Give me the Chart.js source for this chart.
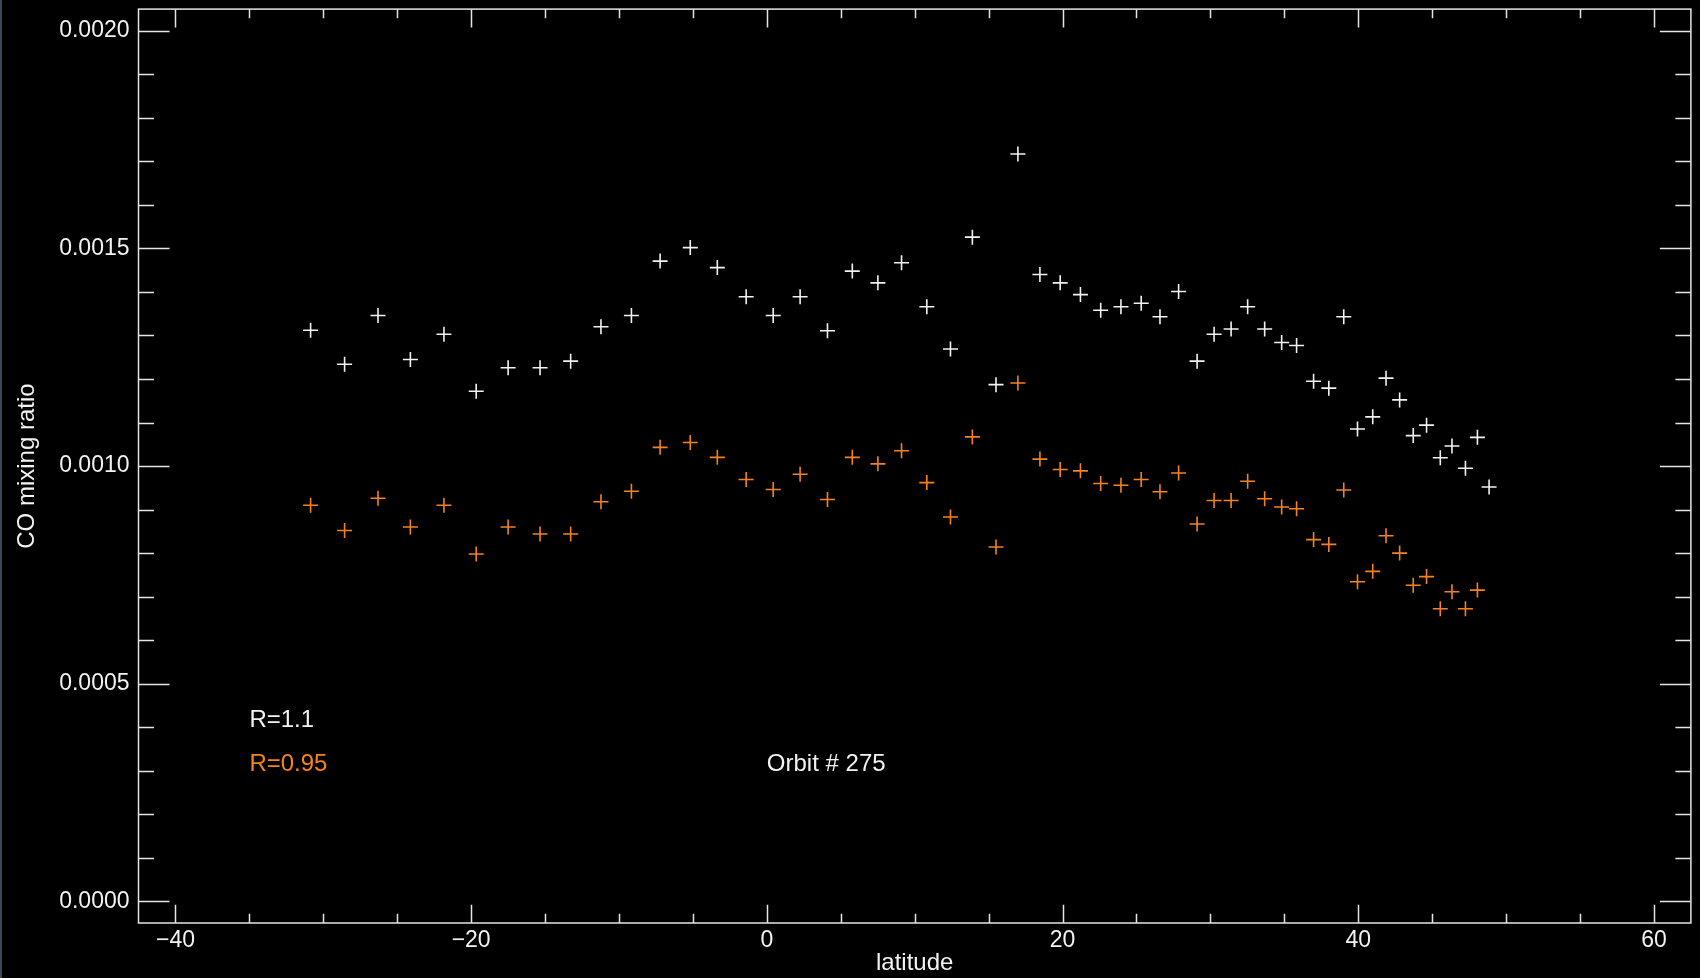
<!DOCTYPE html>
<html>
<head>
<meta charset="utf-8">
<title>CO mixing ratio vs latitude</title>
<script src="https://cdn.jsdelivr.net/npm/chart.js@4.4.0/dist/chart.umd.min.js"></script>
<style>
  html, body { margin: 0; padding: 0; background: #000; overflow: hidden; }
  #wrap { position: relative; width: 1700px; height: 978px; }
  #edge { position: absolute; left: 0; top: 0; width: 2px; height: 978px; background: #3e4a57; }
</style>
</head>
<body>
<div id="wrap">
  <canvas id="coChart" width="1700" height="978"></canvas>
  <div id="edge"></div>
</div>
<script>
// latitude of each retrieval along the orbit
const latitude = [
  -30.86, -28.56, -26.30, -24.11, -21.84, -19.66, -17.50, -15.34, -13.27, -11.22,
  -9.16, -7.22, -5.18, -3.35, -1.40, 0.43, 2.25, 4.10, 5.78, 7.51,
  9.11, 10.82, 12.42, 13.90, 15.50, 16.98, 18.47, 19.84, 21.21, 22.58,
  23.95, 25.32, 26.59, 27.85, 29.10, 30.25, 31.40, 32.52, 33.67, 34.82,
  35.83, 36.98, 38.01, 39.02, 39.95, 40.98, 41.88, 42.80, 43.72, 44.62,
  45.55, 46.34, 47.25, 48.06, 48.85
];

// CO mixing ratio, R=1.1
const ratioR11 = [
  0.001312, 0.001234, 0.001346, 0.001245, 0.001303, 0.001172, 0.001226, 0.001226, 0.001241, 0.001320,
  0.001346, 0.001471, 0.001502, 0.001456, 0.001389, 0.001346, 0.001389, 0.001311, 0.001448, 0.001421,
  0.001467, 0.001366, 0.001269, 0.001526, 0.001187, 0.001717, 0.001440, 0.001421, 0.001394, 0.001358,
  0.001366, 0.001374, 0.001343, 0.001401, 0.001241, 0.001303, 0.001315, 0.001366, 0.001315, 0.001284,
  0.001277, 0.001195, 0.001179, 0.001343, 0.001085, 0.001113, 0.001202, 0.001152, 0.001070, 0.001094,
  0.001019, 0.001046, 0.000995, 0.001066, 0.000952
];

// CO mixing ratio, R=0.95 (no value at the last latitude)
const ratioR095 = [
  0.000910, 0.000852, 0.000926, 0.000860, 0.000910, 0.000798, 0.000860, 0.000844, 0.000844, 0.000918,
  0.000942, 0.001043, 0.001054, 0.001020, 0.000969, 0.000946, 0.000981, 0.000923, 0.001020, 0.001005,
  0.001035, 0.000962, 0.000883, 0.001067, 0.000814, 0.001191, 0.001016, 0.000992, 0.000989, 0.000960,
  0.000956, 0.000969, 0.000941, 0.000984, 0.000867, 0.000921, 0.000921, 0.000965, 0.000925, 0.000906,
  0.000902, 0.000831, 0.000820, 0.000945, 0.000734, 0.000758, 0.000840, 0.000800, 0.000726, 0.000746,
  0.000672, 0.000711, 0.000672, 0.000715
];

const xTickValues = [-40, -20, 0, 20, 40, 60];
const yTickValues = [0, 0.0005, 0.001, 0.0015, 0.002];
const xMinorStep = 5;
const yMinorStep = 0.0001;

// text written into the plot in data coordinates
const noteTexts = ["R=1.1", "R=0.95", "Orbit # 275"];
const noteLat = [-35, -35, 0];
const noteRatio = [0.0004, 0.0003, 0.0003];

const WHITE = "#f2f2f2";
const ORANGE = "#f5821f";
const AXIS_COLOR = "#e4e4e4";
const FONT = "'Liberation Sans', Arial, sans-serif";
const noteColors = [WHITE, ORANGE, WHITE];

function toPoints(xs, ys) {
  return ys.map((v, i) => ({ x: xs[i], y: v }));
}

// closed box with inward major/minor ticks on all four sides
const frameTicks = {
  id: "frameTicks",
  afterDatasetsDraw(chart) {
    const { ctx, chartArea: a, scales } = chart;
    const w = a.right - a.left;
    const h = a.bottom - a.top;
    ctx.save();
    ctx.strokeStyle = AXIS_COLOR;
    ctx.lineWidth = 1.5;
    ctx.strokeRect(a.left, a.top, w, h);
    ctx.beginPath();

    const xFirst = xTickValues[0];
    const xLast = xTickValues[xTickValues.length - 1];
    const nx = Math.round((xLast - xFirst) / xMinorStep);
    for (let i = 0; i <= nx; i++) {
      const v = xFirst + i * xMinorStep;
      const px = Math.round(scales.x.getPixelForValue(v)) + 0.5;
      const len = xTickValues.includes(v) ? 0.02 * h : 0.01 * h;
      ctx.moveTo(px, a.bottom);
      ctx.lineTo(px, a.bottom - len);
      ctx.moveTo(px, a.top);
      ctx.lineTo(px, a.top + len);
    }

    const yFirst = yTickValues[0];
    const yLast = yTickValues[yTickValues.length - 1];
    const ny = Math.round((yLast - yFirst) / yMinorStep);
    for (let i = 0; i <= ny; i++) {
      const v = yFirst + i * yMinorStep;
      const py = Math.round(scales.y.getPixelForValue(v)) + 0.5;
      const len = i % 5 === 0 ? 0.02 * w : 0.01 * w;
      ctx.moveTo(a.left, py);
      ctx.lineTo(a.left + len, py);
      ctx.moveTo(a.right, py);
      ctx.lineTo(a.right - len, py);
    }
    ctx.stroke();

    ctx.font = "24px " + FONT;
    ctx.textAlign = "left";
    ctx.textBaseline = "alphabetic";
    noteTexts.forEach((t, i) => {
      ctx.fillStyle = noteColors[i];
      ctx.fillText(t, scales.x.getPixelForValue(noteLat[i]), scales.y.getPixelForValue(noteRatio[i]));
    });
    ctx.restore();
  },
};

Chart.defaults.color = WHITE;
Chart.defaults.font.family = FONT;

const ctx = document.getElementById("coChart").getContext("2d");
new Chart(ctx, {
  type: "scatter",
  data: {
    datasets: [
      {
        label: "R=1.1",
        data: toPoints(latitude, ratioR11),
        pointStyle: "cross",
        pointRadius: 7.5,
        pointBorderWidth: 1.6,
        borderColor: WHITE,
        backgroundColor: WHITE,
      },
      {
        label: "R=0.95",
        data: toPoints(latitude, ratioR095),
        pointStyle: "cross",
        pointRadius: 7.5,
        pointBorderWidth: 1.6,
        borderColor: ORANGE,
        backgroundColor: ORANGE,
      },
    ],
  },
  options: {
    responsive: false,
    animation: false,
    events: [],
    layout: { padding: { top: 9, right: 3, left: 0, bottom: 0 } },
    plugins: {
      legend: { display: false },
      tooltip: { enabled: false },
    },
    scales: {
      x: {
        type: "linear",
        min: -42.5,
        max: 62.5,
        grid: { display: false, drawTicks: false },
        border: { display: false },
        afterBuildTicks: (scale) => {
          scale.ticks = xTickValues.map((v) => ({ value: v }));
        },
        afterFit: (scale) => {
          scale.height = 55;
          scale.paddingLeft = 0;
          scale.paddingRight = 0;
        },
        ticks: {
          color: WHITE,
          padding: 4,
          maxRotation: 0,
          font: { size: 23 },
          callback: (v) => (v < 0 ? "\u2212" + Math.abs(v) : String(v)),
        },
        title: {
          display: true,
          text: "latitude",
          color: WHITE,
          font: { size: 24 },
          padding: { top: 0, bottom: 0 },
        },
      },
      y: {
        type: "linear",
        min: -0.00005,
        max: 0.00205,
        grid: { display: false, drawTicks: false },
        border: { display: false },
        afterBuildTicks: (scale) => {
          scale.ticks = yTickValues.map((v) => ({ value: v }));
        },
        afterFit: (scale) => {
          scale.width = 138.5;
          scale.paddingTop = 0;
          scale.paddingBottom = 0;
        },
        ticks: {
          color: WHITE,
          padding: 9,
          font: { size: 23 },
          callback: (v) => v.toFixed(4),
        },
        title: {
          display: true,
          text: "CO mixing ratio",
          color: WHITE,
          font: { size: 24 },
          padding: { top: 13, bottom: 0 },
        },
      },
    },
  },
  plugins: [frameTicks],
});
</script>
</body>
</html>
